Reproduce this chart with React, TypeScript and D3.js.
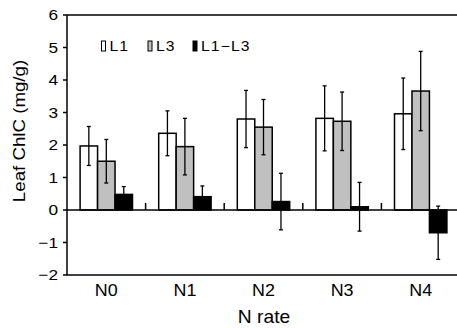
import React from "react";
import * as d3 from "d3";

const categories = ["N0", "N1", "N2", "N3", "N4"];
const seriesNames = ["L1", "L3", "L1\u2212L3"];
const meanL1 = [1.97, 2.36, 2.8, 2.82, 2.96];
const meanL3 = [1.5, 1.95, 2.55, 2.73, 3.66];
const meanDiff = [0.48, 0.41, 0.26, 0.1, -0.7];
const errL1 = [0.6, 0.69, 0.88, 1.0, 1.1];
const errL3 = [0.67, 0.87, 0.85, 0.9, 1.22];
const errDiff = [0.24, 0.33, 0.87, 0.75, 0.82];
const yTicks = [-2, -1, 0, 1, 2, 3, 4, 5, 6];

const fills = ["#ffffff", "#c0c0c0", "#000000"];
const font = "Arial, 'Liberation Sans', sans-serif";

// text that is a little wider than tall, like the original export
function Label(props: {
  x: number;
  y: number;
  size: number;
  anchor?: string;
  rotate?: number;
  sx?: number;
  dy?: string;
  spacing?: number;
  children: React.ReactNode;
}) {
  const { x, y, size, anchor = "start", rotate = 0, sx = 1.12, dy, spacing } = props;
  return (
    <text
      transform={`translate(${x},${y}) rotate(${rotate}) scale(${sx},1)`}
      textAnchor={anchor}
      fontFamily={font}
      fontSize={size}
      dy={dy}
      letterSpacing={spacing}
    >
      {props.children}
    </text>
  );
}

export default function App() {
  const width = 457;
  const height = 328;
  const margin = { left: 67, top: 15, right: -3, bottom: 53 };
  const x0 = margin.left;
  const x1 = width - margin.right;
  const yTop = margin.top;
  const yBot = height - margin.bottom;

  const y = d3.scaleLinear().domain([-2, 6]).range([yBot, yTop]);
  const xBand = d3.scaleBand().domain(categories).range([x0, x1]).paddingInner(0).paddingOuter(0);
  const inner = d3
    .scaleBand()
    .domain(seriesNames)
    .range([0, xBand.bandwidth()])
    .paddingOuter(0.75)
    .paddingInner(0);

  const series = [
    { name: seriesNames[0], means: meanL1, errs: errL1 },
    { name: seriesNames[1], means: meanL3, errs: errL3 },
    { name: seriesNames[2], means: meanDiff, errs: errDiff },
  ];

  const bw = inner.bandwidth();
  const boundaries = categories.slice(1).map((c) => xBand(c) as number);

  return (
    <svg width={width} height={height} style={{ position: "absolute", left: 0, top: 0 }}>
      <rect width={width} height={height} fill="#fff" />
      {/* frame */}
      <line x1={x0} x2={x1} y1={yTop} y2={yTop} stroke="#000" strokeWidth={1.5} />
      <line x1={x0} x2={x1} y1={yBot} y2={yBot} stroke="#000" strokeWidth={1.5} />

      {/* bars */}
      {series.map((s, si) =>
        categories.map((c, ci) => {
          const bx = (xBand(c) as number) + (inner(s.name) as number);
          const v = s.means[ci];
          const top = y(Math.max(0, v));
          const h = Math.abs(y(v) - y(0));
          return (
            <rect
              key={`${si}-${ci}`}
              x={bx}
              y={top}
              width={bw}
              height={h}
              fill={fills[si]}
              stroke="#000"
              strokeWidth={1.5}
            />
          );
        })
      )}

      {/* error bars */}
      {series.map((s, si) =>
        categories.map((c, ci) => {
          const cx = (xBand(c) as number) + (inner(s.name) as number) + bw / 2;
          const v = s.means[ci];
          const e = s.errs[ci];
          const hi = y(v + e);
          const lo = y(v - e);
          return (
            <g key={`e-${si}-${ci}`} stroke="#000" strokeWidth={1.3}>
              <line x1={cx} x2={cx} y1={hi} y2={lo} />
              <line x1={cx - 2} x2={cx + 2} y1={hi} y2={hi} />
              <line x1={cx - 2} x2={cx + 2} y1={lo} y2={lo} />
            </g>
          );
        })
      )}

      {/* zero axis with category ticks */}
      <line x1={x0} x2={x1} y1={y(0)} y2={y(0)} stroke="#000" strokeWidth={1.5} />
      {boundaries.map((bx, i) => (
        <line key={i} x1={bx} x2={bx} y1={y(0)} y2={y(0) - 7} stroke="#000" strokeWidth={1.5} />
      ))}

      {/* y axis */}
      <line x1={x0} x2={x0} y1={yTop} y2={yBot} stroke="#000" strokeWidth={1.5} />
      {yTicks.map((t) => (
        <g key={t}>
          <line x1={x0 - 4} x2={x0} y1={y(t)} y2={y(t)} stroke="#000" strokeWidth={1.5} />
          <Label x={x0 - 9} y={y(t)} dy="0.36em" anchor="end" size={15} sx={1.15}>
            {t < 0 ? `\u2212${Math.abs(t)}` : t}
          </Label>
        </g>
      ))}

      {/* category labels */}
      {categories.map((c) => (
        <Label key={c} x={(xBand(c) as number) + xBand.bandwidth() / 2} y={296} anchor="middle" size={16}>
          {c}
        </Label>
      ))}

      {/* axis titles */}
      <Label x={264} y={323} anchor="middle" size={17.5} sx={1.1}>
        N rate
      </Label>
      <Label x={25} y={131} anchor="middle" size={17} sx={1.1} rotate={-90}>
        Leaf ChlC (mg/g)
      </Label>

      {/* legend */}
      {seriesNames.map((n, i) => {
        const lx = [101.5, 148, 193][i];
        return (
          <g key={n}>
            <rect x={lx} y={41} width={4} height={10} fill={fills[i]} stroke="#000" strokeWidth={1} />
            <Label x={lx + 8} y={51} size={14} spacing={1}>
              {n}
            </Label>
          </g>
        );
      })}
    </svg>
  );
}
